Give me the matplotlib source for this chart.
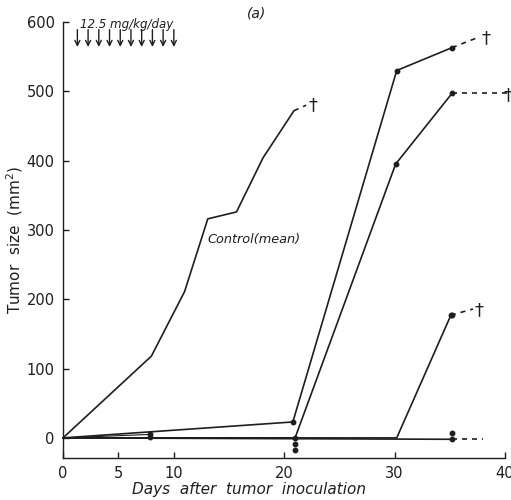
import matplotlib
matplotlib.use("Agg")
import matplotlib.pyplot as plt

# ---- data ----
control_days = [0, 8, 11, 13.1, 15.7, 18.1, 20.9]
control_size = [0, 118, 211, 316, 326, 404, 472]
control_dash_days = [20.9, 22.0]
control_dash_size = [472, 480]

mouse_a_days = [0, 20.8, 30.2, 35.2]
mouse_a_size = [0, 23, 530, 563]
mouse_a_dash_days = [35.2, 37.6]
mouse_a_dash_size = [563, 578]

mouse_b_days = [0, 21.0, 30.1, 35.2]
mouse_b_size = [0, 0, 395, 497]
mouse_b_dash_days = [35.2, 40.2]
mouse_b_dash_size = [497, 497]

mouse_c_days = [0, 30.2, 35.1]
mouse_c_size = [0, 0, 177]
mouse_c_dash_days = [35.1, 37.1]
mouse_c_dash_size = [177, 186]

base_days = [0, 35.2]
base_size = [0, -2]
base_dash_days = [35.2, 38.0]
base_dash_size = [-2, -2]

small_days = [0, 7.9]
small_size = [0, 5]

dot_days = [7.9, 7.9, 20.8, 21.0, 21.0, 21.0, 30.2, 30.1, 35.2, 35.2, 35.2, 35.1, 35.2, 35.2]
dot_size = [5, 1, 23, 0, -9, -17, 530, 395, 563, 497, 177, 177, 7, -2]

dagger_days = [22.6, 38.3, 40.3, 37.6]
dagger_size = [480, 577, 495, 184]

dose_days = [1.3, 2.27, 3.24, 4.21, 5.18, 6.15, 7.12, 8.09, 9.06, 10.03]

xticks = [0, 5, 10, 20, 30, 40]
yticks = [0, 100, 200, 300, 400, 500, 600]

ink = "#1e1e1e"

fig = plt.figure(figsize=(5.11, 5.0), dpi=100)
ax = fig.add_axes([0.1233, 0.084, 0.865, 0.872])
ax.set_xlim(0, 40)
ax.set_ylim(-29, 600)

lw = 1.2
for d, s in [(control_days, control_size), (mouse_a_days, mouse_a_size),
             (mouse_b_days, mouse_b_size), (mouse_c_days, mouse_c_size),
             (base_days, base_size)]:
    ax.plot(d, s, color=ink, lw=lw, clip_on=False, solid_capstyle="round")
ax.plot(small_days, small_size, color=ink, lw=0.8, clip_on=False)
for d, s in [(control_dash_days, control_dash_size), (mouse_a_dash_days, mouse_a_dash_size),
             (mouse_b_dash_days, mouse_b_dash_size), (mouse_c_dash_days, mouse_c_dash_size),
             (base_dash_days, base_dash_size)]:
    ax.plot(d, s, color=ink, lw=lw, ls=(0, (3, 3)), clip_on=False)
ax.plot(dot_days, dot_size, "o", color=ink, ms=3.2, clip_on=False, zorder=5)

for d, s in zip(dagger_days, dagger_size):
    ax.text(d, s, "\u2020", ha="center", va="center", fontsize=13, color=ink, clip_on=False)

for d in dose_days:
    ax.annotate("", xy=(d, 564), xytext=(d, 589),
                arrowprops=dict(arrowstyle="->", color=ink, lw=1.0,
                                shrinkA=0, shrinkB=0, mutation_scale=9))
ax.text(1.5, 596, "12.5 mg/kg/day", fontsize=8.6, color=ink, ha="left", va="center",
        style="italic")
ax.text(17.5, 612, "(a)", fontsize=10, color=ink, ha="center", va="center", style="italic",
        clip_on=False)
ax.text(13.1, 286, "Control(mean)", fontsize=9.3, color=ink, ha="left", va="center",
        style="italic")

ax.spines["top"].set_visible(False)
ax.spines["right"].set_visible(False)
for sp in ["left", "bottom"]:
    ax.spines[sp].set_color(ink)
    ax.spines[sp].set_linewidth(1.0)
ax.spines["left"].set_bounds(-29, 600)
ax.set_xticks(xticks)
ax.set_xticklabels([str(t) for t in xticks])
ax.set_yticks(yticks)
ax.set_yticklabels([str(t) for t in yticks])
ax.tick_params(direction="in", length=4, width=1.0, colors=ink, labelsize=10.5, pad=6)

ax.set_xlabel("Days  after  tumor  inoculation", fontsize=11, color=ink, style="italic")
ax.xaxis.set_label_coords(0.42, -0.055)
ax.set_ylabel("Tumor  size  (mm$^2$)", fontsize=11, color=ink)
ax.yaxis.set_label_coords(-0.085, 0.5)

fig.savefig("out.png", dpi=100)
